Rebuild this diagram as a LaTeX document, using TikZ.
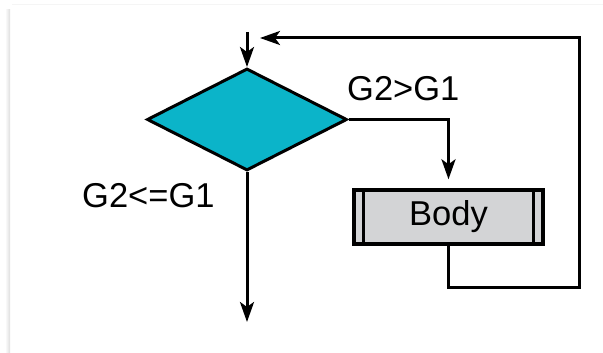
\documentclass[tikz,border=0pt]{standalone}
\usepackage{fontspec}
\setmainfont{Liberation Sans}
\usetikzlibrary{shapes.geometric,arrows.meta}
\definecolor{decfill}{HTML}{0BB4C9}
\definecolor{bodyfill}{HTML}{D3D4D6}
\tikzset{
  flow/.style={line width=3pt, draw=black},
  arr/.style={flow, -{Stealth[length=20pt,width=14pt,inset=5pt]}},
  decision/.style={diamond, draw=black, line width=3pt, fill=decfill,
    inner sep=0pt, minimum width=200pt, minimum height=102pt},
  loopbody/.style={rectangle, draw=black, line width=3.4pt, fill=bodyfill,
    minimum width=189pt, minimum height=54pt, inner sep=0pt},
  lbl/.style={inner sep=0pt, anchor=base west, font=\fontsize{34.5}{40}\selectfont}
}
\begin{document}
\begin{tikzpicture}[x=1pt, y=-1pt]
  \useasboundingbox (0,0) rectangle (603,353);
  % faint card edge
  \fill[left color=white, right color=black!13] (5,10) rectangle (10,353);
  \draw[black!4, line width=1pt] (12,4.5) -- (603,4.5);

  % nodes
  \node[decision] (d) at (247,119.5) {};
  \node[loopbody, font=\fontsize{34.5}{40}\selectfont] (b) at (448.5,217) {Body};
  \draw[line width=3.4pt] ([xshift=11pt]b.north west) -- ([xshift=11pt]b.south west);
  \draw[line width=3.4pt] ([xshift=-11pt]b.north east) -- ([xshift=-11pt]b.south east);

  \coordinate (in) at (247,32);
  \coordinate (out) at (247,322);
  \coordinate (ret) at (579,38);
  \coordinate (rettip) at (260,38);

  % connectors
  \draw[arr] (in) -- (d.north);
  \draw[arr, shorten >=9pt] (d.east) -| (b.north);
  \draw[arr] (d.south) -- (out);
  \draw[arr] (b.south) |- (579,287) -- (ret) -- (rettip);

  % branch labels
  \node[lbl] (gt) at (347,101) {G2>G1};
  \node[lbl] (le) at (82,207) {G2<=G1};
\end{tikzpicture}
\end{document}
